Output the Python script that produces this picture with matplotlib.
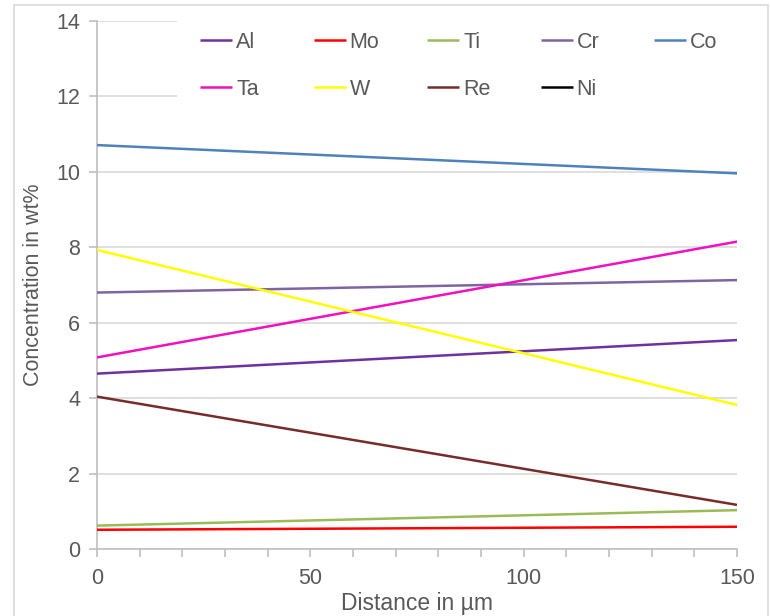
import matplotlib
matplotlib.use("Agg")
import matplotlib.pyplot as plt
from matplotlib.legend import Legend
from matplotlib.patches import Rectangle
from matplotlib.ticker import MultipleLocator

plt.rcParams['font.family'] = ['Liberation Sans', 'DejaVu Sans']

# Distance along the profile (µm) and concentrations (wt%)
distance = [0, 150]
al = [4.65, 5.54]
mo = [0.51, 0.59]
ti = [0.62, 1.03]
cr = [6.80, 7.13]
co = [10.71, 9.96]
ta = [5.08, 8.15]
w = [7.93, 3.82]
re = [4.04, 1.17]
ni = [59.7, 62.6]

series = [
    ("Al", al, "#7030A0"),
    ("Mo", mo, "#FF0000"),
    ("Ti", ti, "#9BBB59"),
    ("Cr", cr, "#8064A2"),
    ("Co", co, "#4F81BD"),
    ("Ta", ta, "#F010C0"),
    ("W", w, "#FFFF00"),
    ("Re", re, "#772C2A"),
    ("Ni", ni, "#000000"),
]

text_color = "#595959"
grid_color = "#D9D9D9"
fs = 15.5

fig = plt.figure(figsize=(7.7, 6.16), dpi=100)
ax = fig.add_axes([97 / 770, 67 / 616, 640 / 770, 528 / 616])

lines = {}
for name, vals, color in series:
    (ln,) = ax.plot(distance, vals, color=color, lw=1.8, label=name,
                    solid_capstyle="butt", zorder=3)
    lines[name] = ln

ax.set_xlim(0, 150)
ax.set_ylim(0, 14)
ax.xaxis.set_major_locator(MultipleLocator(50))
ax.xaxis.set_minor_locator(MultipleLocator(10))
ax.yaxis.set_major_locator(MultipleLocator(2))

ax.grid(axis="y", color=grid_color, lw=1.2)
ax.set_axisbelow(True)

for side in ("top", "right"):
    ax.spines[side].set_visible(False)
for side in ("left", "bottom"):
    ax.spines[side].set_color("#BFBFBF")
    ax.spines[side].set_linewidth(1.2)

ax.tick_params(axis="both", which="both", colors="#BFBFBF", labelcolor=text_color,
               labelsize=fs, width=1.2)
ax.tick_params(axis="x", which="both", length=6, pad=8)
ax.tick_params(axis="y", which="major", length=6, pad=6)

ax.set_xlabel("Distance in µm", fontsize=16.5, color=text_color, labelpad=2)
ax.set_ylabel("Concentration in wt%", fontsize=fs, color=text_color, labelpad=9)

# White legend area over the top gridlines
ax.add_patch(Rectangle((80 / 640, 1 - 89 / 528), 560 / 640, 89 / 528,
                       transform=ax.transAxes, facecolor="white",
                       edgecolor="none", zorder=1))

# Legend laid out in equal-width columns, two rows
columns = [["Al", "Ta"], ["Mo", "W"], ["Ti", "Re"], ["Cr", "Ni"], ["Co"]]
col_x = [103, 216.5, 330, 443.5, 557]
for cx, names in zip(col_x, columns):
    leg = Legend(ax, [lines[n] for n in names], names, loc="upper left",
                 bbox_to_anchor=(cx / 640, 1 - 11 / 528), frameon=False,
                 fontsize=fs, handlelength=1.49, handletextpad=0.19,
                 labelspacing=1.19, borderpad=0.0, borderaxespad=0.0)
    for t in leg.get_texts():
        t.set_color(text_color)
    leg.set_zorder(4)
    ax.add_artist(leg)

# Chart area border
fig.patches.append(Rectangle((14 / 770, -0.01), 754 / 770, 1 - 5 / 616 + 0.01,
                             transform=fig.transFigure, fill=False,
                             edgecolor=grid_color, lw=1.2))

fig.savefig("out.png", dpi=100, facecolor="white")
